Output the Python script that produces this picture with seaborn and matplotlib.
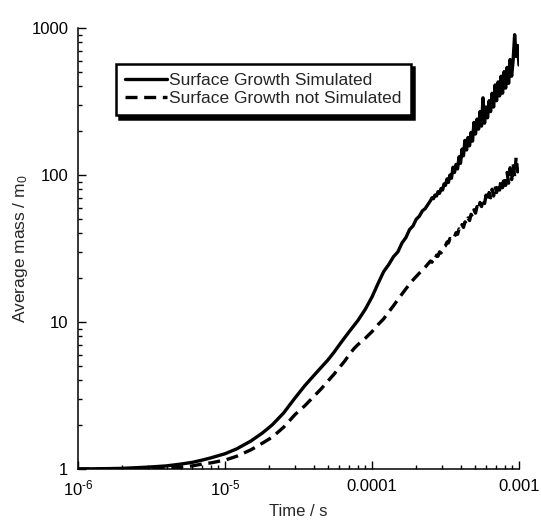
import numpy as np
import pandas as pd
import matplotlib
matplotlib.use("Agg")
import matplotlib.pyplot as plt
from matplotlib.ticker import FixedLocator, FixedFormatter, LogLocator, NullFormatter
import seaborn as sns

# ---- data ----
time_s = [
    1.0e-6, 1.5e-6, 2.0e-6, 3.0e-6, 4.0e-6, 5.0e-6, 6.0e-6, 7.0e-6, 8.0e-6,
    1.0e-5, 1.2e-5, 1.5e-5, 1.8e-5, 2.1e-5, 2.5e-5, 3.0e-5, 3.5e-5, 4.0e-5,
    4.5e-5, 5.0e-5, 5.5e-5, 6.0e-5, 6.5e-5, 7.0e-5, 7.5e-5, 8.0e-5, 9.0e-5,
    1.0e-4, 1.1e-4, 1.2e-4, 1.3e-4, 1.4e-4, 1.5e-4, 1.6e-4, 1.7e-4, 1.8e-4,
    1.9e-4, 2.0e-4, 2.1e-4, 2.2e-4, 2.3e-4, 2.4e-4,
    2.50e-4, 2.56e-4, 2.62e-4, 2.68e-4, 2.75e-4, 2.81e-4, 2.88e-4, 2.95e-4,
    3.02e-4, 3.09e-4, 3.16e-4, 3.24e-4, 3.31e-4, 3.39e-4, 3.47e-4, 3.56e-4,
    3.64e-4, 3.73e-4, 3.82e-4, 3.91e-4, 4.00e-4, 4.10e-4, 4.19e-4, 4.29e-4,
    4.40e-4, 4.50e-4, 4.61e-4, 4.72e-4, 4.83e-4, 4.94e-4, 5.06e-4, 5.18e-4,
    5.31e-4, 5.43e-4, 5.56e-4, 5.69e-4, 5.83e-4, 5.97e-4, 6.11e-4, 6.26e-4,
    6.41e-4, 6.56e-4, 6.72e-4, 6.88e-4, 7.04e-4, 7.21e-4, 7.38e-4, 7.55e-4,
    7.73e-4, 7.92e-4, 8.11e-4, 8.30e-4, 8.50e-4, 8.70e-4, 8.91e-4, 9.12e-4,
    9.34e-4, 9.56e-4, 9.79e-4, 1.0e-3,
]

mass_surface_growth = [
    1.00, 1.005, 1.01, 1.03, 1.05, 1.08, 1.11, 1.15, 1.19,
    1.27, 1.37, 1.55, 1.76, 2.0, 2.4, 3.05, 3.7, 4.3,
    4.9, 5.5, 6.2, 7.0, 7.8, 8.6, 9.4, 10.2, 12.2,
    14.8, 18.3, 22.0, 24.6, 27.8, 30.0, 34.5, 37.5, 42.5,
    45.0, 50.0, 52.5, 57.0, 59.0, 63.0,
    67, 70, 69, 73, 72, 77, 75, 81,
    79, 87, 85, 94, 89, 100, 95, 113,
    104, 118, 110, 133, 120, 150, 135, 172,
    148, 180, 158, 195, 170, 228, 190, 240,
    205, 270, 215, 335, 225, 290, 245, 320,
    270, 360, 290, 410, 320, 430, 345, 470,
    360, 505, 390, 540, 420, 610, 470, 600,
    900, 640, 760, 560,
]

mass_no_surface_growth = [
    1.00, 1.00, 1.00, 1.005, 1.01, 1.03, 1.05, 1.08, 1.10,
    1.15, 1.22, 1.35, 1.50, 1.65, 1.92, 2.35, 2.70, 3.10,
    3.50, 3.95, 4.40, 4.90, 5.40, 6.00, 6.55, 7.00, 7.75,
    8.60, 9.60, 10.5, 11.7, 12.9, 14.2, 15.5, 16.8, 18.1,
    19.3, 20.4, 21.5, 22.5, 23.6, 24.8,
    26, 25.5, 27, 26.5, 28.5, 28, 30, 29.5,
    31, 32.5, 33, 35, 34.5, 37, 36.5, 38.5,
    38, 40.5, 39.5, 43, 42, 46, 44, 48,
    46.5, 51, 49, 54, 52, 58, 55, 61,
    58, 65, 61, 69, 64, 73, 67, 76,
    70, 80, 72, 84, 76, 88, 79, 93,
    82, 98, 85, 104, 88, 112, 93, 120,
    98, 132, 105, 118,
]

series_labels = ["Surface Growth Simulated", "Surface Growth not Simulated"]
x_tick_values = [1e-6, 1e-5, 1e-4, 1e-3]
x_tick_labels = ["$10^{\u20106}$", "$10^{\u20105}$", "0.0001", "0.001"]
y_tick_values = [1, 10, 100, 1000]
y_tick_labels = ["1", "10", "100", "1000"]

# ---- style ----
sns.set_style("ticks")
plt.rcParams["font.family"] = ["Liberation Sans", "DejaVu Sans"]
plt.rcParams["mathtext.fontset"] = "custom"
plt.rcParams["mathtext.rm"] = "Liberation Sans"
plt.rcParams["mathtext.it"] = "Liberation Sans:italic"
plt.rcParams["mathtext.bf"] = "Liberation Sans:bold"
plt.rcParams["mathtext.default"] = "regular"

fig = plt.figure(figsize=(5.41, 5.22), dpi=100)
ax = fig.add_axes([78 / 541, 1 - 469 / 522, 441 / 541, 441 / 522])
ax.set_xscale("log")
ax.set_yscale("log")

df = pd.DataFrame({"t": time_s,
                   "a": mass_surface_growth,
                   "b": mass_no_surface_growth})

sns.lineplot(data=df, x="t", y="a", ax=ax, color="black", linewidth=2.4,
             estimator=None, sort=False, label=series_labels[0])
sns.lineplot(data=df, x="t", y="b", ax=ax, color="black", linewidth=2.4,
             estimator=None, sort=False, linestyle=(0, (3.6, 2.0)),
             label=series_labels[1])

ax.set_xlim(1e-6, 1e-3)
ax.set_ylim(1, 1000)

ax.xaxis.set_major_locator(FixedLocator(x_tick_values))
ax.xaxis.set_major_formatter(FixedFormatter(x_tick_labels))
ax.xaxis.set_minor_locator(LogLocator(base=10, subs=np.arange(2, 10), numticks=20))
ax.xaxis.set_minor_formatter(NullFormatter())
ax.yaxis.set_major_locator(FixedLocator(y_tick_values))
ax.yaxis.set_major_formatter(FixedFormatter(y_tick_labels))
ax.yaxis.set_minor_locator(LogLocator(base=10, subs=np.arange(2, 10), numticks=20))
ax.yaxis.set_minor_formatter(NullFormatter())

ax.tick_params(which="major", direction="in", length=6, width=1.0,
               labelsize=12, pad=7, color="black", labelcolor="black")
ax.tick_params(which="minor", direction="in", length=3.2, width=1.0, color="black")

for s in ["top", "right"]:
    ax.spines[s].set_visible(False)
for s in ["left", "bottom"]:
    ax.spines[s].set_linewidth(1.1)
    ax.spines[s].set_color("black")

ax.set_xlabel("Time / s", fontsize=12, labelpad=4)
ax.set_ylabel("Average mass / m$_0$", fontsize=12.5, labelpad=1)

leg = ax.legend(loc="upper left", bbox_to_anchor=(0.086, 0.919),
                fontsize=12.5, frameon=True, fancybox=False,
                shadow={"ox": 2.4, "oy": -2.4, "color": "black", "alpha": 1},
                handlelength=2.4, handletextpad=0.1, labelspacing=0.12,
                borderpad=0.55, borderaxespad=0)
frame = leg.get_frame()
frame.set_edgecolor("black")
frame.set_linewidth(1.8)
frame.set_facecolor("white")
frame.set_alpha(1)

fig.savefig("out.png", dpi=100)
